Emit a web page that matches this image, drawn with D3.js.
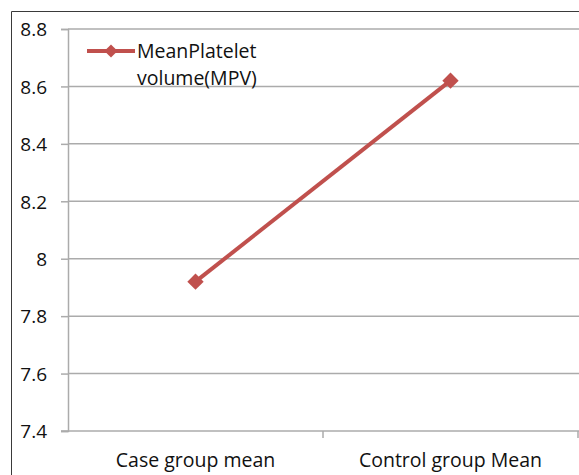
<!DOCTYPE html>
<html>
<head>
<meta charset="utf-8">
<script src="https://cdn.jsdelivr.net/npm/d3@7"></script>
<style>
  body { margin: 0; background: #fff; }
  svg text { font-family: "Open Sans", sans-serif; fill: #111; }
</style>
</head>
<body>
<div id="chart"></div>
<script>
// chart values
const categories = ['Case group mean', 'Control group Mean'];
const mpvValues = [7.92, 8.62];
const yTicks = [7.4, 7.6, 7.8, 8, 8.2, 8.4, 8.6, 8.8];
const seriesName = ['MeanPlatelet', 'volume(MPV)'];

const width = 579, height = 475;
const margin = {top: 29, right: 1, bottom: 44, left: 68};

let svg = d3.select('#chart')
  .append('svg')
    .attr('width', width)
    .attr('height', height);

// outer chart frame (runs off the right and bottom of the picture)
svg.append('path')
  .attr('fill', 'none')
  .attr('stroke', '#3a3a3a')
  .attr('stroke-width', 1)
  .attr('d', 'M11.5,' + height + 'V11.5H' + width);

let x = d3.scaleBand()
  .domain(categories)
  .range([margin.left, width - margin.right]);

let y = d3.scaleLinear()
  .domain([7.4, 8.8])
  .range([height - margin.bottom, margin.top]);

// horizontal gridlines
svg.append('g')
  .selectAll('line')
  .data(yTicks.slice(1))
  .enter().append('line')
    .attr('x1', margin.left)
    .attr('x2', width)
    .attr('y1', (d) => y(d))
    .attr('y2', (d) => y(d))
    .attr('stroke', '#ababab')
    .attr('stroke-width', 1.5);

// y axis
let yAxis = svg.append('g')
  .attr('transform', 'translate(' + margin.left + ',0)')
  .call(d3.axisLeft(y).tickValues(yTicks).tickSize(7).tickPadding(14)
    .tickFormat((d) => String(d)));
yAxis.select('.domain').attr('stroke', '#ababab').attr('stroke-width', 1.5);
yAxis.selectAll('.tick line').attr('stroke', '#ababab').attr('stroke-width', 1.5);
yAxis.selectAll('text').style('font-size', '19px').attr('dy', '0.36em');

// x axis with ticks between categories
let xAxis = svg.append('g')
  .attr('transform', 'translate(0,' + y(7.4) + ')');
xAxis.append('line')
  .attr('x1', margin.left - 7).attr('x2', width)
  .attr('stroke', '#ababab').attr('stroke-width', 1.5);
xAxis.selectAll('line.tick')
  .data(categories)
  .enter().append('line')
    .attr('class', 'tick')
    .attr('x1', (d) => x(d) + x.bandwidth())
    .attr('x2', (d) => x(d) + x.bandwidth())
    .attr('y1', 0).attr('y2', 7)
    .attr('stroke', '#ababab').attr('stroke-width', 1.5);
xAxis.selectAll('text')
  .data(categories)
  .enter().append('text')
    .attr('x', (d) => x(d) + x.bandwidth() / 2)
    .attr('y', 36)
    .attr('text-anchor', 'middle')
    .style('font-size', '19.5px')
    .text((d) => d);

// series line and markers
const red = '#c0504d';
let points = categories.map((c, i) => [x(c) + x.bandwidth() / 2, y(mpvValues[i])]);

svg.append('path')
  .attr('fill', 'none')
  .attr('stroke', red)
  .attr('stroke-width', 4)
  .attr('d', d3.line()(points));

let diamond = d3.symbol().type(d3.symbolDiamond2).size(170);
svg.append('g')
  .selectAll('path')
  .data(points)
  .enter().append('path')
    .attr('d', diamond)
    .attr('fill', red)
    .attr('transform', (d) => 'translate(' + d[0] + ',' + d[1] + ')');

// legend
let legend = svg.append('g');
legend.append('line')
  .attr('x1', 87).attr('x2', 135)
  .attr('y1', 51).attr('y2', 51)
  .attr('stroke', red).attr('stroke-width', 4);
legend.append('path')
  .attr('d', d3.symbol().type(d3.symbolDiamond2).size(110))
  .attr('fill', red)
  .attr('transform', 'translate(111,51)');
legend.append('text')
  .attr('x', 137)
  .attr('y', 58)
  .style('font-size', '19.5px')
  .selectAll('tspan')
  .data(seriesName)
  .enter().append('tspan')
    .attr('x', 137)
    .attr('dy', (d, i) => i ? 27 : 0)
    .text((d) => d);
</script>
</body>
</html>
